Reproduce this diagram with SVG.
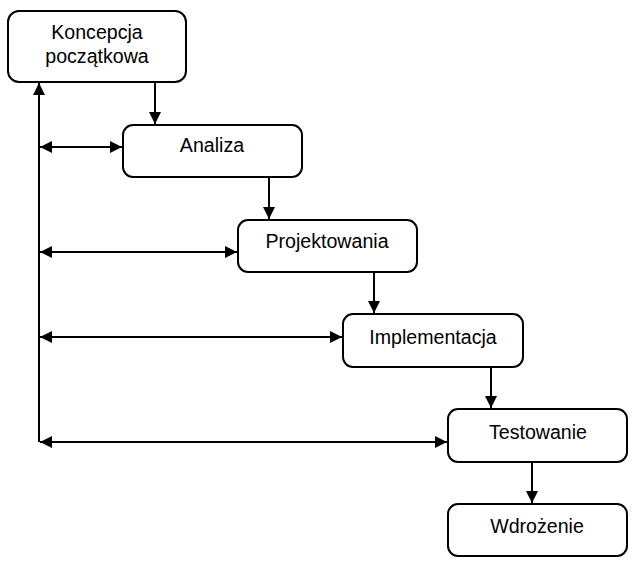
<svg xmlns="http://www.w3.org/2000/svg" width="643" height="571" viewBox="0 0 643 571">
<style>
.box{fill:#fff;stroke:#000;stroke-width:2}
.lbl{font-family:"Liberation Sans",Arial,sans-serif;font-size:19.6px;fill:#000;text-anchor:middle}
.ln{fill:none;stroke:#000;stroke-width:2}
</style>
<defs>
<marker id="ah" markerWidth="12" markerHeight="12" viewBox="0 0 12 12" refX="12" refY="6" orient="auto-start-reverse" markerUnits="userSpaceOnUse">
<path d="M0,0 L12,6 L0,12 Z" fill="#000"/>
</marker>
</defs>
<rect width="643" height="571" fill="#fff"/>
<g id="n1"><rect class="box" x="8" y="11" width="178" height="71" rx="11"/><text class="lbl" x="97" y="39">Koncepcja</text><text class="lbl" x="97" y="63">początkowa</text></g>
<g id="n2"><rect class="box" x="123" y="125" width="179" height="52" rx="10"/><text class="lbl" x="212" y="152">Analiza</text></g>
<g id="n3"><rect class="box" x="238" y="220" width="179" height="52" rx="10"/><text class="lbl" x="327" y="248">Projektowania</text></g>
<g id="n4"><rect class="box" x="343" y="314" width="180" height="53" rx="10"/><text class="lbl" x="433" y="344">Implementacja</text></g>
<g id="n5"><rect class="box" x="448" y="409" width="179" height="53" rx="10"/><text class="lbl" x="538" y="439">Testowanie</text></g>
<g id="n6"><rect class="box" x="448" y="504" width="179" height="52" rx="10"/><text class="lbl" x="537" y="533">Wdrożenie</text></g>
<g id="connectors">
<line class="ln" x1="155" y1="83" x2="155" y2="124" marker-end="url(#ah)"/>
<line class="ln" x1="269" y1="178" x2="269" y2="219" marker-end="url(#ah)"/>
<line class="ln" x1="374" y1="273" x2="374" y2="313" marker-end="url(#ah)"/>
<line class="ln" x1="491" y1="368" x2="491" y2="408" marker-end="url(#ah)"/>
<line class="ln" x1="532" y1="463" x2="532" y2="503" marker-end="url(#ah)"/>
<line class="ln" x1="39" y1="442" x2="39" y2="83" marker-end="url(#ah)"/>
<line class="ln" x1="40" y1="147" x2="122" y2="147" marker-start="url(#ah)" marker-end="url(#ah)"/>
<line class="ln" x1="40" y1="252" x2="237" y2="252" marker-start="url(#ah)" marker-end="url(#ah)"/>
<line class="ln" x1="40" y1="337" x2="342" y2="337" marker-start="url(#ah)" marker-end="url(#ah)"/>
<line class="ln" x1="40" y1="442" x2="447" y2="442" marker-start="url(#ah)" marker-end="url(#ah)"/>
</g>
</svg>
